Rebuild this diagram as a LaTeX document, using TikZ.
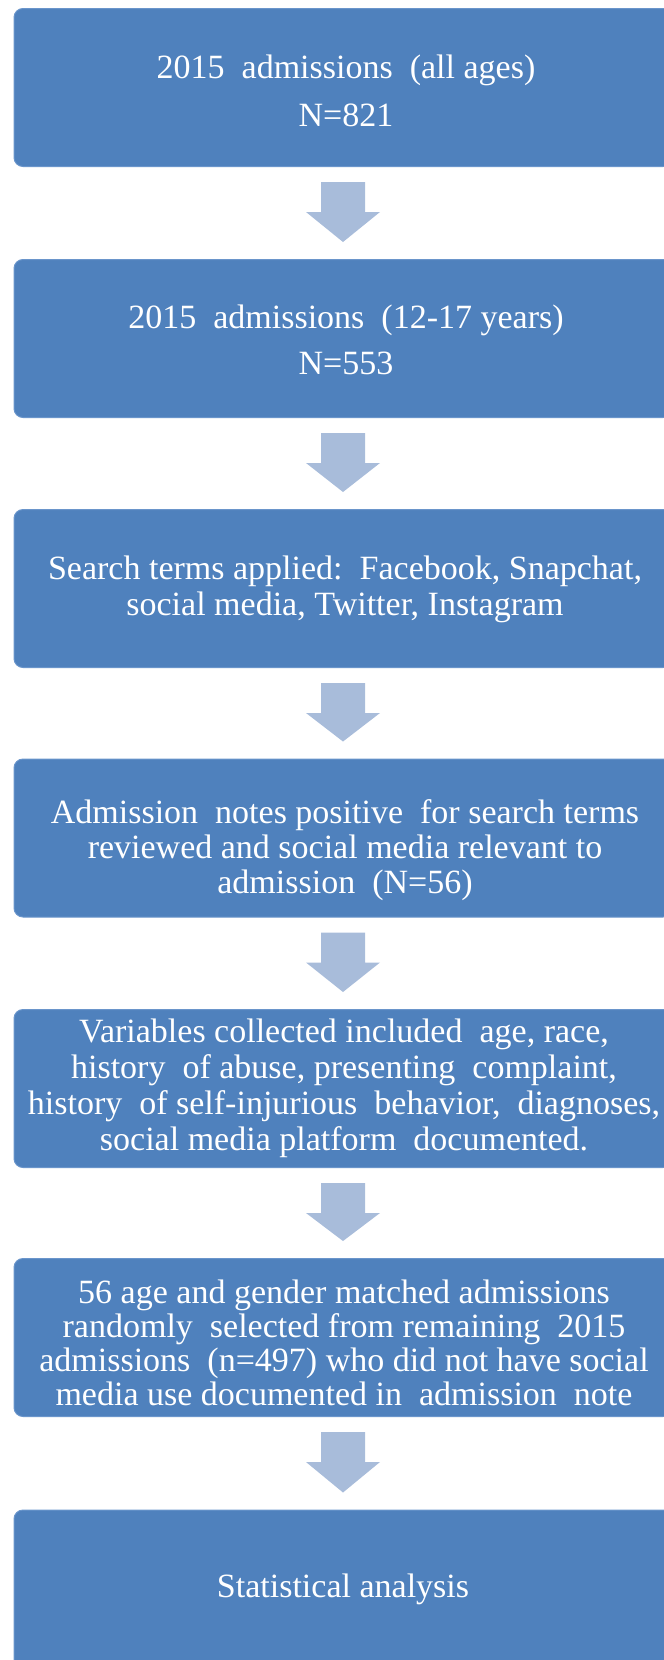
\documentclass[tikz,border=0pt]{standalone}
\usepackage{fontspec}
\setmainfont{Liberation Serif}
\usetikzlibrary{calc}
\definecolor{boxblue}{HTML}{4F81BD}
\definecolor{boxedge}{HTML}{6A95CB}
\definecolor{arrowblue}{HTML}{A8BCDA}

% block arrow pointing down from the bottom of one box to the top of the next
\newcommand{\flowarrow}[2]{%
  \fill[arrowblue]
    ($(#1.south)+(-22,15)$) -- ($(#1.south)+(22,15)$) --
    ($(#1.south)+(22,45)$) -- ($(#1.south)+(37,45)$) --
    ($(#2.north)+(0,-17)$) --
    ($(#1.south)+(-37,45)$) -- ($(#1.south)+(-22,45)$) -- cycle;}

\begin{document}
\begin{tikzpicture}[x=0.5pt,y=-0.5pt,
  box/.style={draw=boxedge, line width=0.5pt, fill=boxblue, rounded corners=4.5pt,
    minimum width=329pt, minimum height=79pt, inner sep=0pt},
  txt/.style={anchor=base, text=white, inner sep=0pt,
    font=\fontsize{17}{20}\selectfont},
]
\useasboundingbox (0,0) rectangle (664,1660);
\clip (0,0) rectangle (664,1660);

% boxes
\node[box] (b1) at (343,87.5) {};
\node[box] (b2) at (343,338.5) {};
\node[box] (b3) at (343,588.5) {};
\node[box] (b4) at (343,838) {};
\node[box] (b5) at (343,1088.5) {};
\node[box] (b6) at (343,1337.5) {};
\node[box] (b7) at (343,1589) {};

% box texts
\node[txt] (t1a) at (346,78) {2015\ \ admissions\ \ (all ages)};
\node[txt] (t1b) at (346,126) {N=821};

\node[txt] (t2a) at (346,328) {2015\ \ admissions\ \ (12-17 years)};
\node[txt] (t2b) at (346,374) {N=553};

\node[txt] (t3a) at (345,579) {Search terms applied:\ \ Facebook, Snapchat,};
\node[txt] (t3b) at (345,615) {social media, Twitter,\ Instagram};

\node[txt] (t4a) at (345,823) {Admission\ \ notes positive\ \ for search terms};
\node[txt] (t4b) at (345,858) {reviewed and social media relevant to};
\node[txt] (t4c) at (345,893) {admission\ \ (N=56)};

\node[txt] (t5a) at (344,1042) {Variables collected included\ \ age, race,};
\node[txt] (t5b) at (344,1078) {history\ \ of abuse, presenting\ \ complaint,};
\node[txt] (t5c) at (344,1114) {history\ \ of self-injurious\ \ behavior,\ \ diagnoses,};
\node[txt] (t5d) at (344,1150) {social media platform\ \ documented.};

\node[txt] (t6a) at (344,1303) {56 age and gender matched admissions};
\node[txt] (t6b) at (344,1337) {randomly\ \ selected from remaining\ \ 2015};
\node[txt] (t6c) at (344,1371) {admissions\ \ (n=497) who did not have social};
\node[txt] (t6d) at (344,1405) {media use documented in\ \ admission\ \ note};

\node[txt] (t7a) at (343,1597) {Statistical analysis};

% arrows between consecutive boxes
\flowarrow{b1}{b2}
\flowarrow{b2}{b3}
\flowarrow{b3}{b4}
\flowarrow{b4}{b5}
\flowarrow{b5}{b6}
\flowarrow{b6}{b7}
\end{tikzpicture}
\end{document}
